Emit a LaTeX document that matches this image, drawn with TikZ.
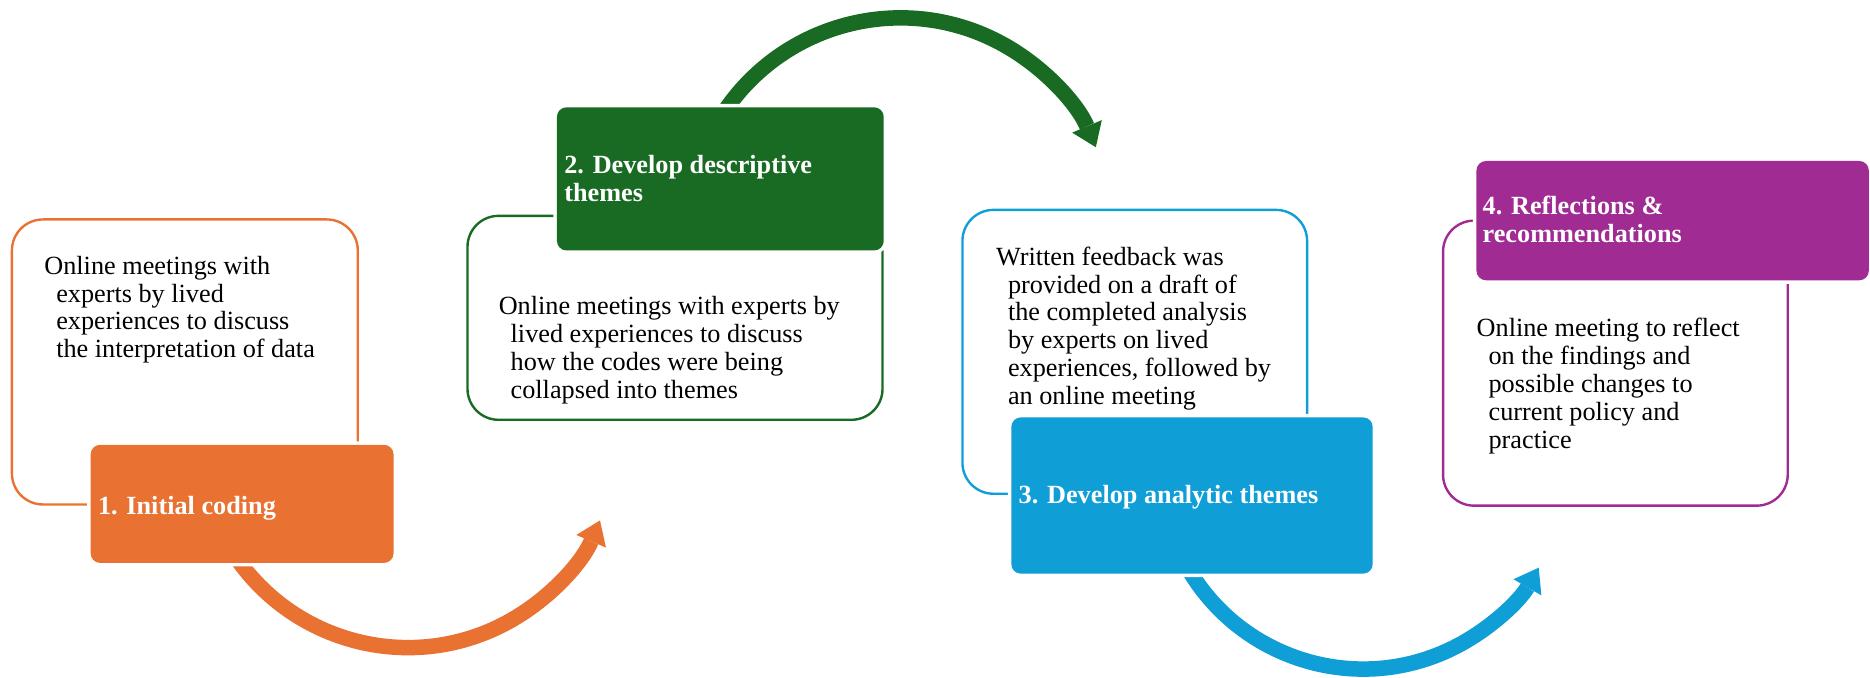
\documentclass[tikz,border=0pt]{standalone}
\usepackage{fontspec}
\setmainfont{Liberation Serif}
\usetikzlibrary{arrows.meta}
\definecolor{corange}{HTML}{E97132}
\definecolor{cgreen}{HTML}{196B24}
\definecolor{cblue}{HTML}{0F9ED5}
\definecolor{cpurple}{HTML}{A02B93}
\tikzset{
  outlinebox/.style={draw=#1, line width=2pt, rounded corners=26pt, inner sep=0pt},
  headbox/.style={fill=#1, rounded corners=8pt, inner sep=0pt, preaction={draw=white, line width=6pt}},
  bodytext/.style={anchor=base west, inner sep=0pt, align=left, font=\fontsize{22pt}{23.3pt}\selectfont},
  headtext/.style={anchor=base west, inner sep=0pt, align=left, text=white, font=\bfseries\fontsize{22pt}{23.3pt}\selectfont},
  flowarrow/.style={draw=#1, line width=13pt, -{Triangle[width=27pt,length=19pt,line width=0pt]}},
}
\begin{document}
\begin{tikzpicture}[x=1pt,y=1pt]
\useasboundingbox (0,0) rectangle (1568,568);
% outline boxes
\node[outlinebox=corange, minimum width=290pt, minimum height=239pt] (o1) at (155,264.5) {};
\node[outlinebox=cgreen,  minimum width=348pt, minimum height=171pt] (o2) at (566,301.5) {};
\node[outlinebox=cblue,   minimum width=289pt, minimum height=238pt] (o3) at (951.5,273) {};
\node[outlinebox=cpurple, minimum width=289pt, minimum height=239pt] (o4) at (1354.5,263.5) {};
% arrows
\coordinate (c1) at (342,200);
\coordinate (c2) at (755,375);
\coordinate (c3) at (1143,177);
\draw[flowarrow=corange] (c1) ++(210:175) arc[start angle=210, end angle=337, radius=175];
\draw[flowarrow=cgreen]  (c2) ++(150:178) arc[start angle=150, end angle=23, radius=178];
\draw[flowarrow=cblue]   (c3) ++(208:170) arc[start angle=208, end angle=330, radius=170];
% filled heading boxes
\node[headbox=corange, minimum width=254pt, minimum height=99pt]  (f1) at (203,145.5) {};
\node[headbox=cgreen,  minimum width=274pt, minimum height=120pt] (f2) at (604,418) {};
\node[headbox=cblue,   minimum width=303pt, minimum height=131pt] (f3) at (999.5,152.5) {};
\node[headbox=cpurple, minimum width=329pt, minimum height=100pt] (f4) at (1402.5,383) {};
% headings (anchor = baseline of the last line)
\node[headtext] (h1) at (82,137) {1. Initial coding};
\node[headtext] (h2) at (473,399) {2. Develop descriptive\\themes};
\node[headtext] (h3) at (854,146) {3. Develop analytic themes};
\node[headtext] (h4) at (1243,365) {4. Reflections \&\\recommendations};
% body texts (anchor = baseline of the last line)
\node[bodytext] (b1) at (37,268.1) {Online meetings with\\\hspace*{10pt}experts by lived\\\hspace*{10pt}experiences to discuss\\\hspace*{10pt}the interpretation of data};
\node[bodytext] (b2) at (418,234.1) {Online meetings with experts by\\\hspace*{10pt}lived experiences to discuss\\\hspace*{10pt}how the codes were being\\\hspace*{10pt}collapsed into themes};
\node[bodytext] (b3) at (835,229) {Written feedback was\\\hspace*{10pt}provided on a draft of\\\hspace*{10pt}the completed analysis\\\hspace*{10pt}by experts on lived\\\hspace*{10pt}experiences, followed by\\\hspace*{10pt}an online meeting};
\node[bodytext] (b4) at (1238,192.3) {Online meeting to reflect\\\hspace*{10pt}on the findings and\\\hspace*{10pt}possible changes to\\\hspace*{10pt}current policy and\\\hspace*{10pt}practice};
\end{tikzpicture}
\end{document}
